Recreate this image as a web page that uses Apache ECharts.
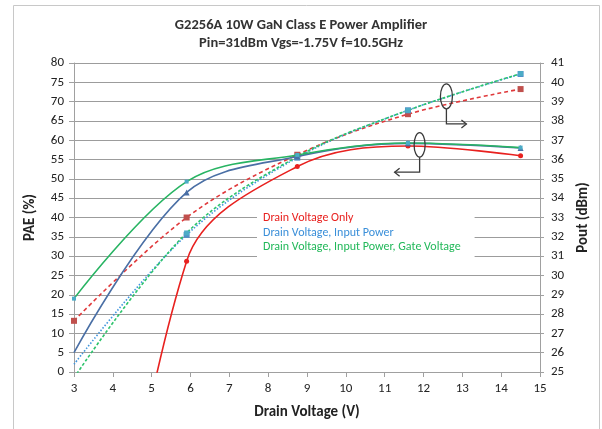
<!DOCTYPE html>
<html>
<head>
<meta charset="utf-8">
<script src="https://cdn.jsdelivr.net/npm/echarts@6/dist/echarts.min.js"></script>
<style>
html,body{margin:0;padding:0;background:#fff;}
#chart{width:602px;height:429px;}
</style>
</head>
<body>
<div id="chart"></div>
<script>
// ---- data ----
const drainVoltage = [3, 5.9, 8.75, 11.6, 14.5];
const paeDrainOnly = [-130, 28.7, 53.2, 58.5, 56.0];
const paeDrainInput = [5.0, 46.5, 55.8, 59.2, 58.0];
const paeDrainInputGate = [19.0, 49.3, 56.2, 59.3, 58.1];
const poutDrainOnly = [27.65, 33.0, 36.25, 38.35, 39.65];
const poutDrainInput = [25.4, 32.1, 36.1, 38.55, 40.43];
const poutDrainInputGate = [24.7, 32.2, 36.15, 38.55, 40.45];
const legendNames = ['Drain Voltage Only', 'Drain Voltage, Input Power', 'Drain Voltage, Input Power, Gate Voltage'];
const titleLines = ['G2256A 10W GaN Class E Power Amplifier', 'Pin=31dBm Vgs=-1.75V f=10.5GHz'];

const FONT = 'Carlito, Lato, sans-serif';
function pairs(ys, hideFirst) {
  return drainVoltage.map((x, i) => (hideFirst && i === 0) ? {value: [x, ys[i]], symbolSize: 0} : [x, ys[i]]);
}

const chart = echarts.init(document.getElementById('chart'), null, {renderer: 'canvas'});

function lineSeries(name, ys, yIdx, color, dash, symbol, symSize, symColor, z, hideFirst) {
  return {
    name: name, type: 'line', xAxisIndex: 0, yAxisIndex: yIdx,
    data: pairs(ys, hideFirst), smooth: 0.35, clip: true,
    symbol: symbol, symbolSize: symSize, showSymbol: true,
    lineStyle: {color: color, width: 1.6, type: dash},
    itemStyle: {color: symColor, borderWidth: 0},
    z: z, animation: false, emphasis: {disabled: true}
  };
}

const option = {
  animation: false,
  backgroundColor: '#fff',
  title: {
    text: titleLines.join('\n'),
    left: 'center', top: 11,
    textStyle: {fontFamily: FONT, fontSize: 14.5, fontWeight: 'bold', color: '#333', lineHeight: 18}
  },
  legend: {
    orient: 'vertical', left: 257, top: 207,
    itemWidth: 0, itemHeight: 0, itemGap: 2,
    padding: [5, 14, 5, 1],
    backgroundColor: '#fff',
    selectedMode: false,
    textStyle: {fontFamily: FONT, fontSize: 12, lineHeight: 12.5},
    data: [
      {name: legendNames[0], icon: 'none', textStyle: {color: '#e8211f'}},
      {name: legendNames[1], icon: 'none', textStyle: {color: '#3a8fd9'}},
      {name: legendNames[2], icon: 'none', textStyle: {color: '#22b85a'}}
    ]
  },
  grid: {left: 74, right: 62, top: 63, bottom: 57},
  xAxis: {
    type: 'value', min: 3, max: 15, interval: 1,
    name: 'Drain Voltage (V)', nameLocation: 'middle', nameGap: 33,
    nameTextStyle: {fontFamily: FONT, fontSize: 15, fontWeight: 'bold', color: '#222'},
    axisLine: {show: true, onZero: false, lineStyle: {color: '#a0a0a0'}},
    axisTick: {show: true, length: 5, lineStyle: {color: '#a0a0a0'}},
    axisLabel: {fontFamily: FONT, fontSize: 13, color: '#222', margin: 10},
    splitLine: {show: false}
  },
  yAxis: [
    {
      type: 'value', min: 0, max: 80, interval: 5, position: 'left',
      name: 'PAE (%)', nameLocation: 'middle', nameGap: 36, nameRotate: 90,
      nameTextStyle: {fontFamily: FONT, fontSize: 15, fontWeight: 'bold', color: '#222'},
      axisLine: {show: true, lineStyle: {color: '#a0a0a0'}},
      axisTick: {show: true, length: 5, lineStyle: {color: '#a0a0a0'}},
      axisLabel: {fontFamily: FONT, fontSize: 13, color: '#222', margin: 10},
      splitLine: {show: true, lineStyle: {color: '#9c9c9c', width: 1}}
    },
    {
      type: 'value', min: 25, max: 41, interval: 1, position: 'right',
      name: 'Pout (dBm)', nameLocation: 'middle', nameGap: 36, nameRotate: 90,
      nameTextStyle: {fontFamily: FONT, fontSize: 15, fontWeight: 'bold', color: '#222'},
      axisLine: {show: true, lineStyle: {color: '#a0a0a0'}},
      axisTick: {show: true, length: 4, lineStyle: {color: '#a0a0a0'}},
      axisLabel: {fontFamily: FONT, fontSize: 13, color: '#222', margin: 11},
      splitLine: {show: false}
    }
  ],
  series: [
    lineSeries(legendNames[0], poutDrainOnly, 1, '#e0393b', [4, 3], 'rect', 6, '#c0504d', 3, false),
    lineSeries(legendNames[1], poutDrainInput, 1, '#3f95dc', [1.5, 1.8], 'rect', 6, '#4f8fc8', 3, true),
    lineSeries(legendNames[2], poutDrainInputGate, 1, '#2cc36b', [3, 2], 'rect', 5, '#4bacc6', 3, false),
    lineSeries(legendNames[0], paeDrainOnly, 0, '#e8211f', 'solid', 'circle', 5, '#e8211f', 4, false),
    lineSeries(legendNames[1], paeDrainInput, 0, '#4a6fa5', 'solid', 'triangle', 6, '#4a6fa5', 4, true),
    lineSeries(legendNames[2], paeDrainInputGate, 0, '#28b463', 'solid', 'rect', 4, '#4bacc6', 4, false)
  ]
};
chart.setOption(option);

// ---- annotations (ellipses with arrows), anchored to data coordinates ----
const upper = chart.convertToPixel({xAxisIndex: 0, yAxisIndex: 1}, [12.59, 39.27]);
const lower = chart.convertToPixel({xAxisIndex: 0, yAxisIndex: 0}, [11.9, 58.8]);
const stroke = {stroke: '#3a3a3a', lineWidth: 1.3, fill: null};
function arrowGroup(c, rx, ry, drop, dx) {
  const bx = c[0], by = c[1] + ry;
  const ey = by + drop, ex = bx + dx;
  const s = dx > 0 ? 1 : -1;
  return [
    {type: 'ellipse', shape: {cx: c[0], cy: c[1], rx: rx, ry: ry}, style: Object.assign({}, stroke), z: 100},
    {type: 'polyline', shape: {points: [[bx, by], [bx, ey], [ex, ey]]}, style: Object.assign({}, stroke), z: 100},
    {type: 'polyline', shape: {points: [[ex - s * 5, ey - 4], [ex, ey], [ex - s * 5, ey + 4]]}, style: Object.assign({}, stroke), z: 100}
  ];
}
chart.setOption({
  graphic: [
    {type: 'rect', shape: {x: 13.5, y: 5.5, width: 586, height: 440}, style: {stroke: '#c8c8c8', lineWidth: 1, fill: null}, z: 0, silent: true}
  ].concat(arrowGroup(upper, 6, 12.5, 15, 20)).concat(arrowGroup(lower, 5.5, 12.3, 15, -25))
});
</script>
</body>
</html>
